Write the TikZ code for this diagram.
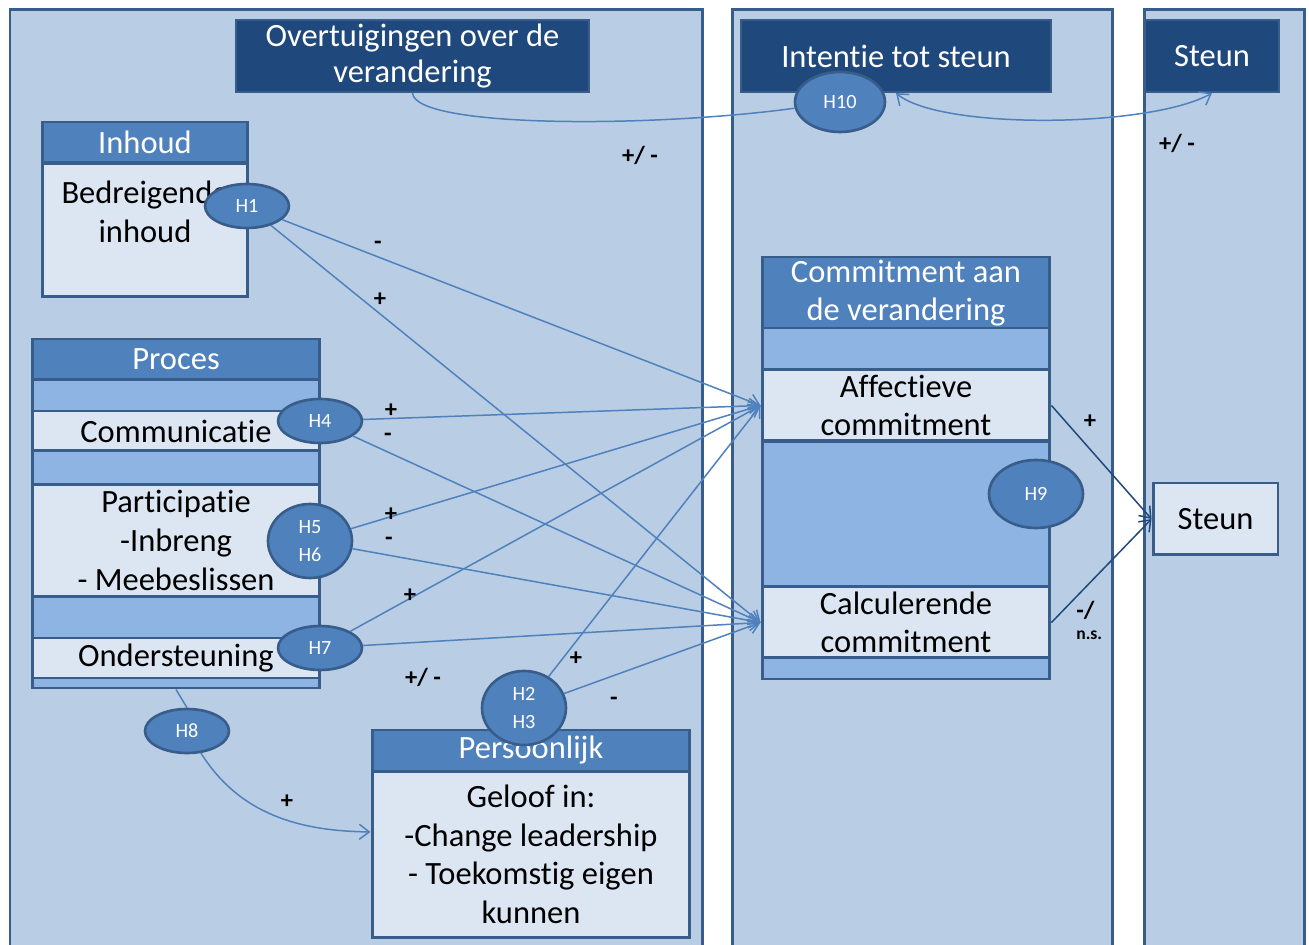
\documentclass[tikz,border=0pt]{standalone}
\usepackage{fontspec}
\setmainfont{Carlito}[Ligatures=CommonOff]
\usetikzlibrary{shapes.geometric,arrows.meta}

\definecolor{panelfill}{HTML}{B9CDE5}
\definecolor{edge}{HTML}{385D8A}
\definecolor{darkhead}{HTML}{1F497D}
\definecolor{midhead}{HTML}{4F81BD}
\definecolor{barfill}{HTML}{8EB4E3}
\definecolor{rowfill}{HTML}{DCE6F2}

\begin{document}
\begin{tikzpicture}[x=0.02cm, y=-0.02cm,
    panel/.style={fill=panelfill, draw=edge, line width=1.7pt},
    header/.style={fill=darkhead, draw=edge, line width=1.2pt, text=white, align=center,
        inner sep=0pt, font=\fontsize{18.5}{20}\selectfont},
    titlebar/.style={fill=midhead, draw=edge, line width=1.7pt, text=white, align=center,
        inner sep=0pt, font=\fontsize{18.5}{22}\selectfont},
    bar/.style={fill=barfill, draw=edge, line width=1.7pt, inner sep=0pt},
    row/.style={fill=rowfill, draw=edge, line width=1.7pt, align=center, inner sep=0pt,
        font=\fontsize{18.5}{22}\selectfont},
    hyp/.style={ellipse, fill=midhead, draw=edge, line width=1.5pt, text=white, align=center,
        inner sep=0pt, font=\fontsize{11.5}{16}\selectfont},
    conn/.style={draw=midhead, line width=0.85pt},
    darkconn/.style={draw=darkhead, line width=0.85pt},
    tip/.style={-{Straight Barb[length=2mm,width=3mm]}},
    sign/.style={font=\bfseries\fontsize{14}{14}\selectfont, inner sep=0pt}
]
    % Page
    \useasboundingbox (0,0) rectangle (1309,945);
    \clip (0,0) rectangle (1309,945);
    \fill[white] (0,0) rectangle (1309,945);

    % Three columns
    \draw[panel] (10,10) rectangle (702,960);
    \draw[panel] (732,10) rectangle (1112,960);
    \draw[panel] (1144,10) rectangle (1304,960);

    % Column headers
    \node[header, minimum width=7.06cm, minimum height=1.44cm] (over) at (412.5,56) {Overtuigingen over de\\verandering};
    \node[header, minimum width=6.2cm, minimum height=1.44cm] (intentie) at (896,56) {Intentie tot steun};
    \node[header, minimum width=2.68cm, minimum height=1.44cm] (steunhdr) at (1212,56) {Steun};

    % Inhoud
    \node[titlebar, minimum width=4.12cm, minimum height=0.82cm] (inhoud) at (145,142.5) {Inhoud};
    \node[row, minimum width=4.12cm, minimum height=2.68cm] (inhoudbody) at (145,230) {};
    \node[align=center, inner sep=0pt, font=\fontsize{18.5}{22}\selectfont] (bedr) at (145,212) {Bedreigende\\inhoud};

    % Proces
    \node[titlebar, minimum width=5.76cm, minimum height=0.82cm] (proces) at (176,359.5) {Proces};
    \node[bar, minimum width=5.76cm, minimum height=0.62cm] (pbar1) at (176,395.5) {};
    \node[row, minimum width=5.76cm, minimum height=0.8cm] (comm) at (176,431) {Communicatie};
    \node[bar, minimum width=5.76cm, minimum height=0.66cm] (pbar2) at (176,467.5) {};
    \node[row, minimum width=5.76cm, minimum height=2.26cm] (part) at (176,540.5) {Participatie\\-Inbreng\\- Meebeslissen};
    \node[bar, minimum width=5.76cm, minimum height=0.82cm] (pbar3) at (176,617.5) {};
    \node[row, minimum width=5.76cm, minimum height=0.8cm] (onder) at (176,658) {Ondersteuning};
    \node[bar, minimum width=5.76cm, minimum height=0.2cm] (pbar4) at (176,683) {};

    % Persoonlijk
    \node[titlebar, minimum width=6.36cm, minimum height=0.82cm] (pers) at (531,750.5) {Persoonlijk};
    \node[row, minimum width=6.36cm, minimum height=3.34cm] (persbody) at (531,854.5) {Geloof in:\\-Change leadership\\- Toekomstig eigen\\kunnen};

    % Commitment aan de verandering
    \node[titlebar, minimum width=5.76cm, minimum height=1.44cm] (commit) at (906,293) {Commitment aan\\de verandering};
    \node[bar, minimum width=5.76cm, minimum height=0.84cm] (cbar1) at (906,349) {};
    \node[row, minimum width=5.76cm, minimum height=1.42cm] (aff) at (906,405.5) {Affectieve\\commitment};
    \node[bar, minimum width=5.76cm, minimum height=2.92cm] (cbar2) at (906,514) {};
    \node[row, minimum width=5.76cm, minimum height=1.42cm] (calc) at (906,622.5) {Calculerende\\commitment};
    \node[bar, minimum width=5.76cm, minimum height=0.42cm] (cbar3) at (906,668.5) {};

    % Steun
    \node[row, minimum width=2.5cm, minimum height=1.44cm] (steun) at (1215.5,519) {Steun};

    % Hypotheses
    \node[hyp, minimum width=1.68cm, minimum height=0.88cm] (h1) at (247,206) {H1};
    \node[hyp, minimum width=1.68cm, minimum height=0.88cm] (h4) at (320,421) {H4};
    \node[hyp, minimum width=1.68cm, minimum height=1.48cm] (h56) at (310,541) {H5\\H6};
    \node[hyp, minimum width=1.68cm, minimum height=0.88cm] (h7) at (320,648) {H7};
    \node[hyp, minimum width=1.68cm, minimum height=0.88cm] (h8) at (187,731) {H8};
    \node[hyp, minimum width=1.68cm, minimum height=1.48cm] (h23) at (524,708) {H2\\H3};
    \node[hyp, minimum width=1.88cm, minimum height=1.36cm] (h9) at (1036,494) {H9};
    \node[hyp, minimum width=1.8cm, minimum height=1.2cm] (h10) at (840,102) {H10};

    % Paths to commitment
    \draw[conn, tip] (h1) -- (aff.west);
    \draw[conn, tip] (h1) -- (calc.west);
    \draw[conn, tip] (h4) -- (aff.west);
    \draw[conn, tip] (h4) -- (calc.west);
    \draw[conn, tip] (h56) -- (aff.west);
    \draw[conn, tip] (h56) -- (calc.west);
    \draw[conn, tip] (h7) -- (aff.west);
    \draw[conn, tip] (h7) -- (calc.west);
    \draw[conn, tip] (h23) -- (aff.west);
    \draw[conn, tip] (h23) -- (calc.west);

    % Proces to persoonlijk
    \draw[conn] (pbar4.south) -- (h8.north);
    \draw[conn, tip] (h8) .. controls (240,815) and (300,831) .. (persbody.172);

    % Commitment to steun
    \draw[darkconn, tip] (aff.east) -- (steun.west);
    \draw[darkconn, tip] (calc.east) -- (steun.west);

    % Intention curves
    \draw[conn] (over.south) .. controls (415,128) and (650,128) .. (h10);
    \draw[conn, {Straight Barb[length=2mm,width=3mm]}-{Straight Barb[length=2mm,width=3mm]}]
        (intentie.south) .. controls (940,130) and (1150,128) .. (steunhdr.south);

    % Signs
    \node[sign] (s1) at (640,155) {+/ -};
    \node[sign] (s2) at (1177,143) {+/ -};
    \node[sign] (s3) at (378,245) {-};
    \node[sign] (s4) at (380,300) {+};
    \node[sign] (s5) at (391,411) {+};
    \node[sign] (s6) at (388,437) {-};
    \node[sign] (s7) at (391,515) {+};
    \node[sign] (s8) at (389,541) {-};
    \node[sign] (s9) at (410,596) {+};
    \node[sign] (s10) at (423,677) {+/ -};
    \node[sign] (s11) at (576,659) {+};
    \node[sign] (s12) at (614,701) {-};
    \node[sign] (s13) at (287,802) {+};
    \node[sign] (s14) at (1090,422) {+};
    \node[sign, align=left, anchor=west] (s15) at (1076,620) {-/\\[-2pt]{\fontsize{10}{11}\selectfont n.s.}};
\end{tikzpicture}
\end{document}
